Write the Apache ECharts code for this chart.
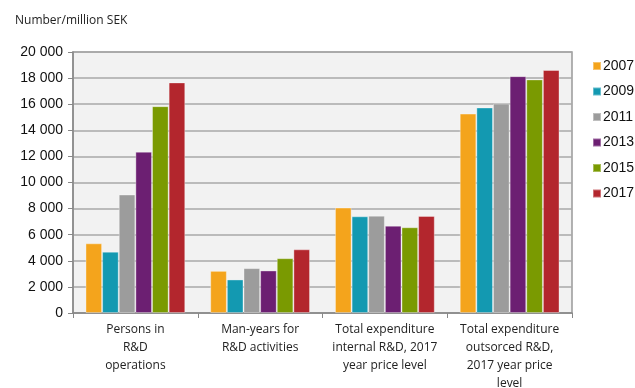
<!DOCTYPE html>
<html>
<head>
<meta charset="utf-8">
<script src="https://cdn.jsdelivr.net/npm/echarts@6/dist/echarts.min.js"></script>
<style>
  html, body { margin: 0; padding: 0; background: #fff; }
  #chart { width: 635px; height: 388px; }
</style>
</head>
<body>
<div id="chart"></div>
<script>
// R&D indicators by survey year
const categories = [
  'Persons in\nR&D\noperations',
  'Man-years for\nR&D activities',
  'Total expenditure\ninternal R&D, 2017\nyear price level',
  'Total expenditure\noutsorced R&D,\n2017 year price\nlevel'
];
const years = ['2007', '2009', '2011', '2013', '2015', '2017'];
const colors = ['#F4A41C', '#1399B1', '#9C9C9C', '#6C1F72', '#7A9A01', '#B3262D'];

const v2007 = [5340, 3230, 8080, 15280];
const v2009 = [4700, 2570, 7410, 15750];
const v2011 = [9080, 3440, 7460, 16050];
const v2013 = [12360, 3260, 6690, 18150];
const v2015 = [15850, 4200, 6570, 17900];
const v2017 = [17670, 4880, 7440, 18620];
const seriesValues = [v2007, v2009, v2011, v2013, v2015, v2017];

const yMin = 0, yMax = 20000, yStep = 2000;

const fmt = v => String(v).replace(/\B(?=(\d{3})+(?!\d))/g, ' ');

const chart = echarts.init(document.getElementById('chart'));
chart.setOption({
  animation: false,
  title: {
    text: 'Number/million SEK',
    left: 10, top: 10,
    textStyle: { fontFamily: 'Open Sans', fontSize: 12, fontWeight: 'normal', color: '#222' }
  },
  legend: {
    orient: 'vertical',
    left: 587, top: 54,
    itemWidth: 8, itemHeight: 8, itemGap: 11.5,
    icon: 'rect',
    textStyle: { fontFamily: 'Liberation Sans', fontSize: 14, color: '#111', padding: [0, 0, 0, -3] },
    data: years
  },
  grid: {
    left: 73, right: 63, top: 52, bottom: 75,
    outerBoundsMode: 'none',
    show: true, backgroundColor: '#F2F2F2', borderColor: '#999', borderWidth: 1.5
  },
  xAxis: {
    type: 'category',
    data: categories,
    axisLine: { lineStyle: { color: '#888', width: 1.5 } },
    axisTick: { show: true, length: 5, lineStyle: { color: '#888' } },
    axisLabel: {
      fontFamily: 'Open Sans', fontSize: 12, color: '#222',
      lineHeight: 18, margin: 8, interval: 0
    }
  },
  yAxis: {
    type: 'value',
    min: yMin, max: yMax, interval: yStep,
    axisLine: { show: true, lineStyle: { color: '#888', width: 1.5 } },
    axisTick: { show: true, length: 5, lineStyle: { color: '#888' } },
    splitLine: { lineStyle: { color: '#A8A8A8', width: 1.5 } },
    axisLabel: {
      fontFamily: 'Liberation Sans', fontSize: 14, color: '#111', margin: 10,
      formatter: fmt
    }
  },
  series: years.map((y, i) => ({
    name: y,
    type: 'bar',
    data: seriesValues[i],
    barGap: '0%',
    barCategoryGap: '20%',
    itemStyle: { color: colors[i], borderColor: 'rgba(255,255,255,0.35)', borderWidth: 1 }
  }))
});
</script>
</body>
</html>
